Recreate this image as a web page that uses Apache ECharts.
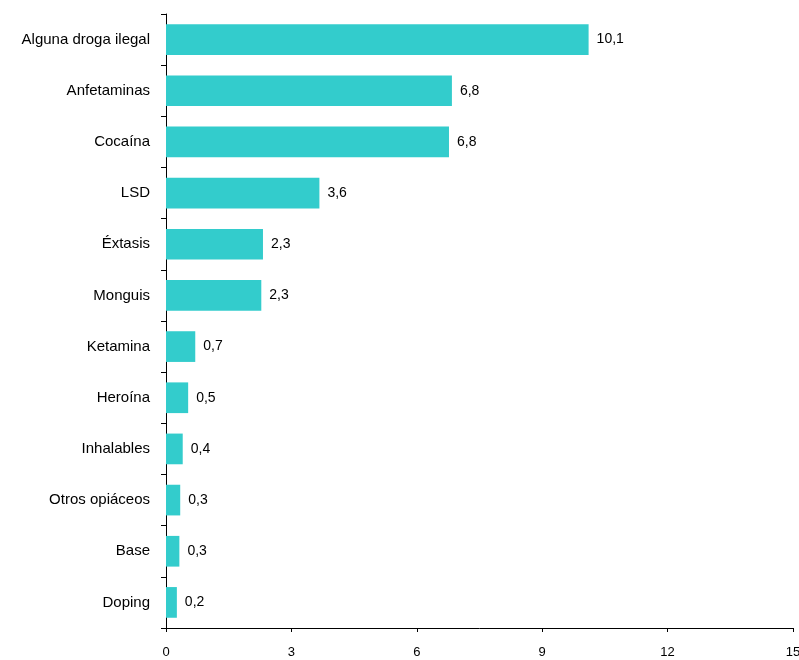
<!DOCTYPE html>
<html>
<head>
<meta charset="utf-8">
<script src="https://cdn.jsdelivr.net/npm/echarts@6/dist/echarts.min.js"></script>
<style>
html,body{margin:0;padding:0;background:#fff;}
#chart{width:799px;height:660px;}
</style>
</head>
<body>
<div id="chart"></div>
<script>
var categories = ["Alguna droga ilegal","Anfetaminas","Cocaína","LSD","Éxtasis","Monguis","Ketamina","Heroína","Inhalables","Otros opiáceos","Base","Doping"];
var values = [10.11, 6.84, 6.77, 3.67, 2.32, 2.28, 0.70, 0.53, 0.40, 0.34, 0.32, 0.26];
var valueLabels = ["10,1","6,8","6,8","3,6","2,3","2,3","0,7","0,5","0,4","0,3","0,3","0,2"];
var xTicks = [0, 3, 6, 9, 12, 15];

var chart = echarts.init(document.getElementById('chart'));
chart.setOption({
  animation: false,
  grid: {left: 166, right: 6, top: 14, bottom: 32, containLabel: false, outerBoundsMode: 'none'},
  xAxis: {
    type: 'value', min: 0, max: 15, interval: 3,
    axisLine: {show: true, lineStyle: {color: '#000', width: 1}},
    axisTick: {show: true, length: 4, lineStyle: {color: '#000'}},
    splitLine: {show: false},
    axisLabel: {color: '#000', fontFamily: 'Liberation Sans', fontSize: 13, margin: 18,
      hideOverlap: false,
      formatter: function(v){ return xTicks.indexOf(v) >= 0 ? String(v) : ''; }}
  },
  yAxis: {
    type: 'category', data: categories, inverse: true,
    axisLine: {show: true, lineStyle: {color: '#000', width: 1}},
    axisTick: {show: true, length: 5, lineStyle: {color: '#000'}},
    axisLabel: {color: '#000', fontFamily: 'Liberation Sans', fontSize: 15, margin: 16}
  },
  series: [{
    type: 'bar', data: values, barCategoryGap: '40%',
    itemStyle: {color: '#33CCCC'},
    label: {show: true, position: 'right', distance: 8, color: '#000',
      fontFamily: 'Liberation Sans', fontSize: 14,
      formatter: function(p){ return valueLabels[p.dataIndex]; }}
  }]
});
</script>
</body>
</html>
